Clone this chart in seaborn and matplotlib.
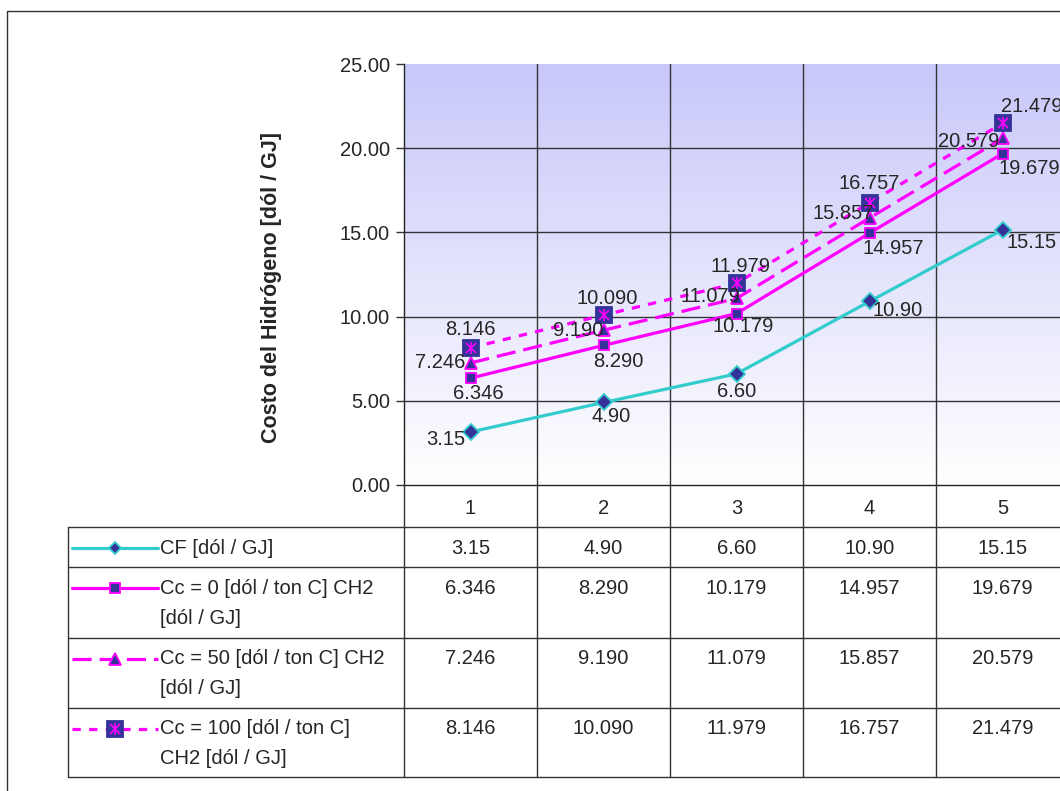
import numpy as np
import matplotlib
matplotlib.use("Agg")
import matplotlib.pyplot as plt
import matplotlib.transforms as mtransforms
from matplotlib.colors import LinearSegmentedColormap
from matplotlib.patches import Rectangle
import seaborn as sns

# Datos
periodos = [1, 2, 3, 4, 5]
cf = [3.15, 4.90, 6.60, 10.90, 15.15]
cc0 = [6.346, 8.290, 10.179, 14.957, 19.679]
cc50 = [7.246, 9.190, 11.079, 15.857, 20.579]
cc100 = [8.146, 10.090, 11.979, 16.757, 21.479]

series = [cf, cc0, cc50, cc100]
nombres = [
    ["CF [dól / GJ]"],
    ["Cc = 0 [dól / ton C] CH2", "[dól / GJ]"],
    ["Cc = 50 [dól / ton C] CH2", "[dól / GJ]"],
    ["Cc = 100 [dól / ton C]", "CH2 [dól / GJ]"],
]
formatos = ["{:.2f}", "{:.3f}", "{:.3f}", "{:.3f}"]
ytitulo = "Costo del Hidrógeno [dól / GJ]"

# Estilos
TURQ = "#33CCCC"
MAG = "#FF00FF"
NAVY = "#333399"
estilos = [
    dict(color=TURQ, linestyle="-", marker="D", markersize=8, markerfacecolor=NAVY, markeredgecolor=TURQ),
    dict(color=MAG, linestyle="-", marker="s", markersize=7, markerfacecolor=NAVY, markeredgecolor=MAG),
    dict(color=MAG, linestyle=(0, (6, 2.5)), marker="^", markersize=8, markerfacecolor=NAVY, markeredgecolor=MAG),
    dict(color=MAG, linestyle=(0, (2.6, 2.6)), marker="s", markersize=11, markerfacecolor=NAVY, markeredgecolor=NAVY),
]
# desplazamiento de etiquetas (pixeles)
offsets = [
    [(-25, -8), (8, -14), (0, -18), (28, -9), (29, -13)],
    [(8, -15), (15, -16), (7, -13), (24, -15), (27, -15)],
    [(-30, 0), (-25, 0), (-26, 2), (-26, 4), (-34, -3)],
    [(0, 18), (4, 17), (4, 17), (0, 19), (29, 17)],
]
FS = 14.5

sns.set_style("white")
plt.rcParams["font.family"] = ["Liberation Sans", "DejaVu Sans"]
plt.rcParams["font.size"] = FS

W, H = 1060, 791
fig = plt.figure(figsize=(W / 100, H / 100), dpi=100)
fig.patch.set_facecolor("white")

# eje principal (se sale por la derecha como en el original)
L, R, T, B = 404, 1069, 64, 485
ax = fig.add_axes([L / W, (H - B) / H, (R - L) / W, (B - T) / H])
ax.set_xlim(0.5, 5.5)
ax.set_ylim(0, 25)

cmap = LinearSegmentedColormap.from_list("fondo", ["#FFFFFF", "#C8C8FA"])
grad = np.linspace(0, 1, 256)[:, None]
ax.imshow(grad, cmap=cmap, origin="lower", extent=[0.5, 5.5, 0, 25], aspect="auto", zorder=0)

for i, (vals, est) in enumerate(zip(series, estilos)):
    sns.lineplot(x=periodos, y=vals, ax=ax, linewidth=2.3, markeredgewidth=1.3,
                 zorder=3 + i, **est)
# asterisco sobre el cuadrado de Cc = 100
ax.plot(periodos, cc100, linestyle="none", marker="x", markersize=7, color=MAG, mew=1.2, zorder=8)
ax.plot(periodos, cc100, linestyle="none", marker="|", markersize=9, color=MAG, mew=1.2, zorder=8)

for vals, fmt, offs in zip(series, formatos, offsets):
    for x, y, (dx, dy) in zip(periodos, vals, offs):
        ax.annotate(fmt.format(y), (x, y), xytext=(dx, dy), textcoords="offset pixels",
                    ha="center", va="center", fontsize=FS, zorder=10)

for yv in [5, 10, 15, 20]:
    ax.axhline(yv, color="#333333", lw=1, zorder=1)
for xv in [1.5, 2.5, 3.5, 4.5, 5.5]:
    ax.axvline(xv, color="#333333", lw=1, zorder=1)

ax.set_yticks([0, 5, 10, 15, 20, 25])
ax.set_yticklabels([f"{v:.2f}" for v in [0, 5, 10, 15, 20, 25]])
ax.set_xticks(periodos)
ax.set_xticklabels([str(p) for p in periodos])
ax.tick_params(axis="y", length=6, width=1, color="#333333", pad=4, left=True, labelsize=FS)
ax.tick_params(axis="x", length=0, pad=10, labelsize=FS)
for s in ["top", "right"]:
    ax.spines[s].set_visible(False)
for s in ["left", "bottom"]:
    ax.spines[s].set_color("#222222")
    ax.spines[s].set_linewidth(1)
ax.set_xlabel("")
ax.set_ylabel(ytitulo, fontsize=15.5, fontweight="bold")
ax.yaxis.set_label_coords(-0.183, 0.47)

# capa en pixeles para el marco
ov = fig.add_axes([0, 0, 1, 1], zorder=-1)
ov.set_xlim(0, W)
ov.set_ylim(H, 0)
ov.axis("off")
ov.patch.set_alpha(0)
ov.add_patch(Rectangle((7, 11), 1200, 900, fill=False, edgecolor="#333333", lw=1))

# tabla de datos
tab = fig.add_axes([0, 0, 1, 1], zorder=5)
tab.set_xlim(0, W)
tab.set_ylim(H, 0)
tab.axis("off")
tab.patch.set_alpha(0)
mix = mtransforms.blended_transform_factory(ax.transData, tab.transData)

filas = [527, 567, 638, 708, 777]
for yf in filas:
    tab.plot([68, 1200], [yf, yf], color="#333333", lw=1, clip_on=False)
tab.plot([68, 68], [filas[0], filas[-1]], color="#333333", lw=1)
for xv in [0.5, 1.5, 2.5, 3.5, 4.5, 5.5]:
    tab.plot([xv, xv], [B, filas[-1]], color="#333333", lw=1, transform=mix, clip_on=False)

for k, (vals, fmt, est, nom) in enumerate(zip(series, formatos, estilos, nombres)):
    yc = filas[k] + 21
    for j, linea in enumerate(nom):
        tab.text(160, yc + 30 * j, linea, ha="left", va="center", fontsize=FS)
    for x, v in zip(periodos, vals):
        tab.text(x, yc, fmt.format(v), ha="center", va="center", fontsize=FS, transform=mix)
    tab.plot([72, 158], [yc, yc], color=est["color"], linestyle=est["linestyle"], lw=2.3)
    tab.plot([115], [yc], linestyle="none", marker=est["marker"],
             markersize=est["markersize"] * (0.75 if k == 0 else 1.0),
             markerfacecolor=est["markerfacecolor"], markeredgecolor=est["markeredgecolor"], mew=1.3)
    if k == 3:
        tab.plot([115], [yc], linestyle="none", marker="x", markersize=7, color=MAG, mew=1.2)
        tab.plot([115], [yc], linestyle="none", marker="|", markersize=9, color=MAG, mew=1.2)

fig.savefig("out.png", dpi=100, facecolor="white")
